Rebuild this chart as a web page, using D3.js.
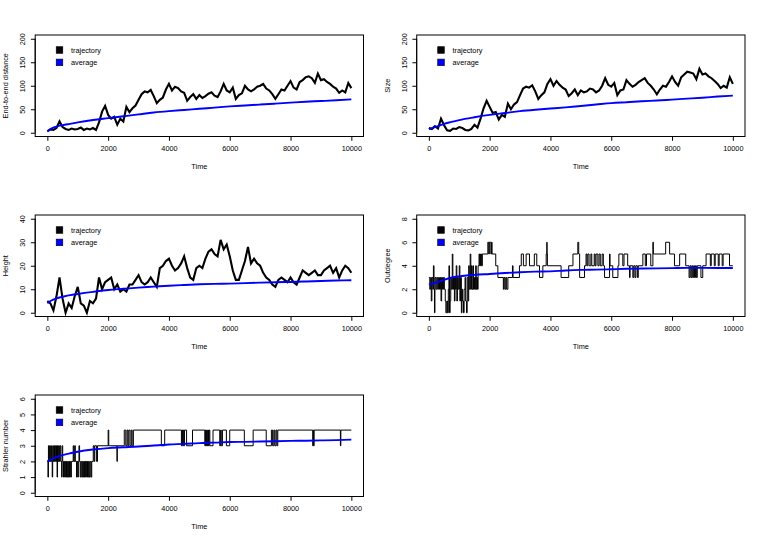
<!DOCTYPE html>
<html><head><meta charset="utf-8">
<script src="https://cdn.jsdelivr.net/npm/d3@7"></script>
<style>
body{margin:0;background:#fff}
svg{display:block}
text{font-family:"Liberation Sans",Arial,Helvetica,sans-serif;font-size:7.3px;fill:#000}
</style></head><body>
<svg id="c" width="763" height="540"></svg>
<script>
// ---------- data ----------
const timeTicks = [0, 2000, 4000, 6000, 8000, 10000];
const legendLabels = ["trajectory", "average"];
const yLabels = ["End-to-end distance", "Size", "Height", "Outdegree", "Strahler number"];

const trajTimes = [0,100,200,300,400,500,600,700,800,900,
 1000,1100,1200,1300,1400,1500,1600,1700,1800,1900,
 2000,2100,2200,2300,2400,2500,2600,2700,2800,2900,
 3000,3100,3200,3300,3400,3500,3600,3700,3800,3900,
 4000,4100,4200,4300,4400,4500,4600,4700,4800,4900,
 5000,5100,5200,5300,5400,5500,5600,5700,5800,5900,
 6000,6100,6200,6300,6400,6500,6600,6700,6800,6900,
 7000,7100,7200,7300,7400,7500,7600,7700,7800,7900,
 8000,8100,8200,8300,8400,8500,8600,8700,8800,8900,
 9000,9100,9200,9300,9400,9500,9600,9700,9800,9900,10000];

const endTraj = [3,7,6,10,24,12,8,6,9,7,
 8,11,6,9,7,10,6,22,45,57,
 38,30,34,17,30,24,55,44,52,58,
 70,82,88,86,91,78,63,70,75,92,
 104,90,98,95,88,85,68,76,82,72,
 80,74,78,83,86,79,76,88,104,90,
 86,96,72,80,84,100,92,88,92,98,
 100,104,94,90,82,72,82,92,90,100,
 110,96,92,108,112,118,120,116,106,126,
 112,114,108,104,98,94,85,90,86,106,95];

const sizeTraj = [10,8,14,9,30,16,5,4,9,8,
 12,10,6,5,8,17,11,30,52,68,
 55,42,44,28,38,34,62,50,60,65,
 80,94,98,96,101,88,72,80,86,104,
 114,100,110,102,96,92,78,84,92,80,
 90,86,88,94,92,86,90,100,116,102,
 98,106,80,90,92,112,104,98,102,108,
 112,116,106,100,92,82,92,100,98,108,
 120,108,100,118,124,130,128,126,114,136,
 124,126,120,116,110,104,95,100,96,118,104];

const heightTraj = [5,4,1,7,15,6,0,4,2,7,
 11,4,3,0,5,4,6,15,10,13,
 14,15,10,12,9,10,9,12,12,14,
 16,13,12,13,15,13,11,19,20,22,
 23,20,18,19,21,24,19,15,14,19,
 20,19,23,26,27,25,24,31,27,29,
 24,18,14,14,18,22,28,21,23,21,
 20,17,15,14,12,11,14,15,14,13,
 15,13,12,15,18,17,16,17,18,16,
 16,18,19,20,17,19,15,18,20,19,17];

// step trajectories: [time, value] change points
const outSteps = [[0,3],[30,2],[60,3],[80,1],[100,3],[130,2],[150,4],[170,2],[185,0],[200,3],[230,2],[260,3],[290,2],[320,3],[350,2],[380,3],[400,1],[420,3],[450,2],[480,3],[510,2],[540,1],[560,0],[590,1],[610,0],[640,2],[660,4],[680,0],[700,1],[720,3],[740,2],[770,5],[790,2],[810,3],[840,1],[860,3],[880,2],[900,4],[920,1],[940,3],[970,2],[1000,4],[1020,1],[1040,3],[1070,0],[1090,2],[1110,1],[1140,0],[1160,2],[1190,3],[1210,1],[1240,0],[1260,3],[1290,1],[1310,4],[1330,2],[1360,5],[1380,2],[1400,4],[1420,2],[1450,4],[1470,2],[1500,3],[1520,2],[1540,4],[1560,2],[1580,3],[1600,2],[1620,4],[1650,5],[1670,4],[1700,5],[1730,4],[1760,5],[1940,6],[1970,5],[1990,6],[2040,5],[2060,6],[2080,5],[2200,4],[2270,3],[2450,2],[2470,3],[2500,2],[2530,3],[2560,2],[2600,3],[2750,4],[2770,3],[2980,4],[3040,5],[3110,4],[3200,5],[3310,4],[3470,5],[3550,4],[3640,3],[3750,4],[3860,5],[3880,6],[3890,5],[3900,4],[4350,3],[4600,4],[4740,5],[4900,6],[4930,5],[4960,3],[5120,4],[5170,5],[5200,4],[5230,5],[5270,4],[5330,5],[5360,4],[5440,5],[5470,4],[5500,5],[5560,4],[5600,5],[5640,4],[5700,5],[5740,4],[5780,3],[5945,5],[5960,4],[6050,3],[6220,4],[6250,5],[6380,4],[6420,5],[6540,4],[6600,3],[6620,4],[6710,3],[6740,4],[6780,3],[6810,4],[6860,3],[6890,4],[7040,5],[7120,4],[7160,5],[7300,4],[7370,6],[7385,5],[7790,6],[7920,5],[8080,4],[8250,5],[8450,4],[8560,3],[8590,4],[8620,3],[8650,4],[8680,3],[8710,4],[8740,3],[8770,4],[8800,3],[8830,4],[8950,3],[9010,4],[9120,5],[9260,4],[9290,5],[9390,4],[9420,5],[9520,4],[9550,5],[9650,4],[9680,5],[9890,4],[10000,4]];

const strSteps = [[0,2],[20,1],[35,3],[55,2],[75,3],[95,2],[115,3],[135,2],[160,1],[175,3],[195,2],[215,3],[235,2],[255,3],[275,2],[300,3],[320,1],[335,3],[355,2],[375,3],[395,2],[415,3],[440,2],[470,1],[485,3],[505,2],[530,1],[550,2],[570,1],[590,2],[610,1],[630,2],[650,1],[670,2],[690,1],[710,2],[730,1],[750,2],[770,1],[790,2],[850,3],[870,2],[900,3],[920,2],[960,1],[975,2],[1000,1],[1020,2],[1040,3],[1060,2],[1080,1],[1100,2],[1130,1],[1160,2],[1180,1],[1200,2],[1220,1],[1240,2],[1260,1],[1280,2],[1300,1],[1320,2],[1340,1],[1360,2],[1380,1],[1410,2],[1440,1],[1460,2],[1510,3],[1540,2],[1560,3],[1620,2],[1650,3],[2000,4],[2020,3],[2290,2],[2300,3],[2530,4],[2580,3],[2620,4],[2650,3],[2680,4],[2720,3],[2760,4],[2790,3],[2830,4],[3750,3],[3860,4],[4410,3],[4430,4],[4450,3],[4470,4],[4490,3],[4510,4],[4580,3],[4775,4],[5180,3],[5200,4],[5220,3],[5240,4],[5260,3],[5280,4],[5300,3],[5320,4],[5345,3],[5450,4],[5670,3],[5700,4],[5720,3],[5760,4],[5890,3],[6000,4],[6480,3],[6770,4],[7200,3],[7370,4],[7410,3],[7450,4],[7480,3],[7520,4],[7550,3],[7580,4],[8730,3],[8745,4],[8760,3],[8775,4],[9640,3],[9655,4],[10000,4]];

const avgTimes = [0,100,200,300,400,500,750,1000,1500,2000,2500,3000,3500,4000,4500,5000,5500,6000,6500,7000,7500,8000,8500,9000,9500,10000];
const endAvg = [3,8,11,13,15,16,19,22,27,31,35,39,43,46,48.5,51,53.5,56,58,60,62,64,66,67.5,69,71];
const sizeAvg = [8,10,12,14,16.5,19,23,27,33,38,42,46,49,51.5,54,57,60,63,65,67,68.5,70.5,72.5,74.5,77,79];
const heightAvg = [4,5,5.6,6.1,6.5,6.8,7.5,8,8.9,9.7,10.2,10.7,11.1,11.5,11.8,12.1,12.3,12.4,12.6,12.8,13,13.1,13.3,13.5,13.7,13.8];
const outAvg = [2.4,2.45,2.55,2.62,2.7,2.8,3.0,3.1,3.22,3.3,3.38,3.45,3.5,3.52,3.6,3.65,3.67,3.7,3.74,3.76,3.78,3.8,3.82,3.82,3.81,3.81];
const strAvg = [2.0,2.1,2.2,2.28,2.34,2.4,2.52,2.62,2.76,2.85,2.9,2.95,3.02,3.08,3.12,3.17,3.2,3.24,3.25,3.27,3.29,3.31,3.32,3.34,3.36,3.39];

const yTicks1 = [0,50,100,150,200];
const yTicks3 = [0,10,20,30,40];
const yTicks4 = [0,2,4,6,8];
const yTicks5 = [0,1,2,3,4,5,6];

const zip = (a,b) => a.map((t,i)=>[t,b[i]]);
const panels = [
  {label:yLabels[0], traj:zip(trajTimes,endTraj), avg:zip(avgTimes,endAvg), yMax:200, ticks:yTicks1, step:false},
  {label:yLabels[1], traj:zip(trajTimes,sizeTraj), avg:zip(avgTimes,sizeAvg), yMax:200, ticks:yTicks1, step:false},
  {label:yLabels[2], traj:zip(trajTimes,heightTraj), avg:zip(avgTimes,heightAvg), yMax:40, ticks:yTicks3, step:false},
  {label:yLabels[3], traj:outSteps, avg:zip(avgTimes,outAvg), yMax:8, ticks:yTicks4, step:true},
  {label:yLabels[4], traj:strSteps, avg:zip(avgTimes,strAvg), yMax:6, ticks:yTicks5, step:true}
];

// ---------- drawing ----------
const svg = d3.select("#c");
const W = 763, cellW = W/2, cellH = 180;
const mar = {l:35.2, r:18, t:35, b:43.5};
const fmt = d3.format("d");

panels.forEach((p,i)=>{
  const col = i%2, row = Math.floor(i/2);
  const x0 = col*cellW + mar.l, x1 = (col+1)*cellW - mar.r;
  const y0 = row*cellH + mar.t, y1 = (row+1)*cellH - mar.b;
  const x = d3.scaleLinear().domain([-400,10400]).range([x0,x1]);
  const y = d3.scaleLinear().domain([-0.04*p.yMax, 1.04*p.yMax]).range([y1,y0]);
  const g = svg.append("g");

  const clipId = "clip"+i;
  svg.append("clipPath").attr("id",clipId).append("rect")
     .attr("x",x0).attr("y",y0).attr("width",x1-x0).attr("height",y1-y0);
  const plot = g.append("g").attr("clip-path",`url(#${clipId})`);

  const line = d3.line().x(d=>x(d[0])).y(d=>y(d[1]));
  if (p.step) line.curve(d3.curveStepAfter);
  plot.append("path").datum(p.traj).attr("d",line)
      .attr("fill","none").attr("stroke","#000")
      .attr("stroke-width", p.step ? 1 : 2.1).attr("stroke-linejoin","miter");
  const aline = d3.line().x(d=>x(d[0])).y(d=>y(d[1])).curve(d3.curveMonotoneX);
  plot.append("path").datum(p.avg).attr("d",aline)
      .attr("fill","none").attr("stroke","#0000FF").attr("stroke-width",1.9);

  // box
  g.append("rect").attr("x",x0).attr("y",y0).attr("width",x1-x0).attr("height",y1-y0)
   .attr("fill","none").attr("stroke","#000").attr("stroke-width",1);

  // x axis
  const xa = g.append("g").attr("transform",`translate(0,${y1})`)
    .call(d3.axisBottom(x).tickValues(timeTicks).tickFormat(fmt).tickSize(4.3).tickPadding(4.9).tickSizeOuter(0));
  xa.select(".domain").remove();
  xa.attr("font-size",null).attr("font-family",null);
  g.append("line").attr("x1",x(timeTicks[0])).attr("x2",x(timeTicks[timeTicks.length-1]))
   .attr("y1",y1).attr("y2",y1).attr("stroke","#000");

  // y axis
  const ya = g.append("g").attr("transform",`translate(${x0},0)`)
    .call(d3.axisLeft(y).tickValues(p.ticks).tickFormat(fmt).tickSize(4.3).tickSizeOuter(0));
  ya.select(".domain").remove();
  ya.attr("font-size",null).attr("font-family",null);
  ya.selectAll("text").attr("x",0).attr("dy","0.35em").attr("text-anchor","middle")
    .attr("transform","translate(-12.3,0) rotate(-90)");
  g.append("line").attr("x1",x0).attr("x2",x0)
   .attr("y1",y(p.ticks[0])).attr("y2",y(p.ticks[p.ticks.length-1])).attr("stroke","#000");

  // axis titles
  g.append("text").attr("x",(x0+x1)/2).attr("y",y1+29.5).attr("dy","0.35em")
   .attr("text-anchor","middle").text("Time");
  g.append("text").attr("transform",`translate(${x0-29.7},${(y0+y1)/2}) rotate(-90)`)
   .attr("dy","0.35em").attr("text-anchor","middle").text(p.label);

  // legend
  const colors = ["#000000","#0000FF"];
  legendLabels.forEach((lab,k)=>{
    const cy = y0 + 15 + k*12.4;
    g.append("rect").attr("x",x0+21).attr("y",cy-3.3).attr("width",6.6).attr("height",6.6)
     .attr("fill",colors[k]).attr("stroke","#000").attr("stroke-width",0.6);
    g.append("text").attr("x",x0+35.8).attr("y",cy).attr("dy","0.35em").text(lab);
  });
});
</script>
</body></html>
